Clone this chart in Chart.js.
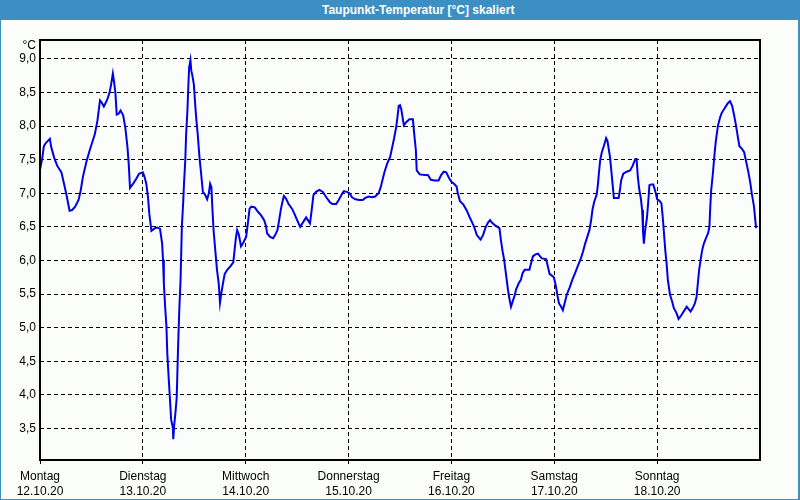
<!DOCTYPE html>
<html>
<head>
<meta charset="utf-8">
<script src="https://cdn.jsdelivr.net/npm/chart.js@4/dist/chart.umd.min.js"></script>
<style>
  html, body { margin: 0; padding: 0; background: #ffffff; }
  #frame { position: relative; width: 800px; height: 500px; box-sizing: border-box;
           border-left: 1px solid #3c8fc2; border-right: 2px solid #3c8fc2; border-bottom: 1px solid #3c8fc2;
           background: #fbfdfb; overflow: hidden; }
  #title { position: absolute; left: 0; top: 0; width: 800px; height: 20px; background: #3c8fc2;
           color: #ffffff; font: bold 12px "Liberation Sans", Arial, sans-serif; line-height: 21px; }
  #title span { position: absolute; left: 321px; top: 0; white-space: nowrap; }
  #wrap { position: absolute; left: -1px; top: 0; width: 800px; height: 500px; }
</style>
</head>
<body>
<div id="frame">
  <div id="title"><span>Taupunkt-Temperatur [°C] skaliert</span></div>
  <div id="wrap"><canvas id="c" width="800" height="500"></canvas></div>
</div>
<script>
// hours since Monday 12.10.20 00:00
const hours = [0,0.5,0.9,1.4,2.3,2.6,3.3,4.0,5.0,5.6,6.1,6.9,7.5,8.2,9.0,9.5,10.0,10.8,11.6,12.1,12.8,13.4,14.0,14.4,14.9,15.6,16.2,16.6,17.0,17.3,17.6,17.9,18.3,18.8,19.4,19.9,20.4,20.7,21.0,21.7,22.5,23.1,24.0,24.4,24.8,25.2,25.5,26.0,26.8,27.4,28.0,28.5,28.7,28.9,29.2,29.5,29.7,30.0,30.3,30.6,31.0,31.1,31.3,31.6,31.9,32.2,32.5,32.8,33.1,33.4,33.6,33.9,34.1,34.4,34.6,34.8,35.1,35.3,35.5,35.9,36.2,36.5,36.8,37.2,37.6,38.0,38.5,39.0,39.4,39.7,40.0,40.2,40.5,40.9,41.3,41.7,42.0,42.3,42.7,43.1,43.7,44.5,45.1,45.4,45.7,46.0,46.4,46.9,47.4,48.1,48.5,48.9,49.3,50.1,50.9,51.6,52.3,52.7,53.0,53.7,54.4,54.9,55.4,55.8,56.2,56.5,56.9,57.4,58.0,58.8,59.4,60.0,60.7,61.4,62.1,62.5,63.0,63.3,63.8,64.4,65.2,66.0,66.8,67.6,68.2,69.1,69.7,70.3,70.9,71.6,72.2,72.8,73.6,74.5,75.3,75.9,76.7,77.5,78.2,79.0,79.5,80.0,80.4,81.0,81.7,82.1,82.6,83.1,83.4,83.7,84.0,84.3,84.6,84.9,85.5,86.2,87.0,87.4,87.7,87.9,88.6,89.8,90.5,91.2,92.1,93.0,93.6,94.2,94.8,95.4,96.0,96.6,97.2,97.5,98.0,98.8,99.6,100.2,100.8,101.3,101.9,102.4,102.8,103.4,103.9,104.5,105.0,105.5,106.2,107.2,107.6,107.9,108.3,108.6,108.9,109.2,109.5,109.9,110.3,110.8,111.1,111.7,112.2,112.6,113.1,114.2,114.6,115.0,115.6,116.2,116.7,117.1,118.1,118.5,118.9,119.5,119.9,120.4,120.7,121.1,121.6,122.0,122.4,122.9,123.6,124.2,124.9,125.5,126.2,126.7,127.2,127.7,128.2,128.6,128.9,129.3,129.9,130.2,130.4,130.7,131.1,131.6,132.1,132.4,132.7,133.0,133.3,133.6,133.9,135.0,135.3,135.6,136.1,136.9,137.7,138.3,138.9,139.2,139.5,139.8,140.2,140.5,140.7,140.9,141.2,141.6,141.9,142.2,142.6,143.1,143.6,144.0,144.5,145.0,145.3,145.6,145.9,146.2,146.5,147.0,147.5,147.9,148.5,149.0,149.5,150.0,150.4,150.9,151.4,151.8,152.3,152.8,153.2,153.5,153.8,154.2,154.5,154.9,155.4,155.9,156.2,156.4,156.6,157.0,157.4,157.7,158.2,158.7,159.1,159.6,160.1,160.5,161.0,161.5,161.9,162.4,162.9,163.2,163.8,164.3,164.7,165.2,165.7,166.1,166.6,166.9,167.1];
const dewPoint = [7.35,7.51,7.70,7.75,7.81,7.69,7.53,7.41,7.31,7.14,7.00,6.74,6.75,6.80,6.90,7.04,7.24,7.46,7.64,7.74,7.88,8.08,8.38,8.35,8.29,8.38,8.49,8.62,8.78,8.65,8.49,8.17,8.18,8.23,8.16,7.98,7.69,7.44,7.08,7.14,7.22,7.29,7.31,7.24,7.14,6.94,6.70,6.44,6.48,6.49,6.47,6.25,6.01,5.66,5.31,5.02,4.62,4.28,3.96,3.63,3.51,3.34,3.54,3.73,3.96,4.67,5.26,5.71,6.50,6.85,7.14,7.49,7.88,8.23,8.58,8.87,8.98,8.82,8.77,8.62,8.33,8.08,7.88,7.54,7.29,7.02,6.98,6.91,7.00,7.14,7.09,6.80,6.45,6.15,5.86,5.66,5.37,5.51,5.66,5.80,5.86,5.92,5.97,6.15,6.33,6.45,6.38,6.21,6.26,6.35,6.55,6.77,6.80,6.79,6.72,6.67,6.60,6.52,6.40,6.35,6.33,6.38,6.45,6.60,6.76,6.85,6.96,6.92,6.84,6.77,6.69,6.60,6.50,6.57,6.64,6.60,6.55,6.70,6.97,7.02,7.05,7.02,6.94,6.87,6.84,6.84,6.90,6.97,7.03,7.02,7.00,6.94,6.91,6.90,6.90,6.93,6.95,6.94,6.95,7.00,7.09,7.22,7.32,7.44,7.54,7.66,7.81,7.98,8.13,8.30,8.31,8.25,8.13,8.01,8.06,8.10,8.10,7.83,7.64,7.34,7.28,7.27,7.27,7.20,7.19,7.19,7.27,7.32,7.31,7.23,7.17,7.14,7.10,7.00,6.88,6.83,6.74,6.65,6.57,6.50,6.38,6.34,6.31,6.38,6.48,6.56,6.60,6.56,6.52,6.48,6.28,6.15,6.01,5.86,5.71,5.56,5.44,5.31,5.39,5.49,5.57,5.66,5.71,5.81,5.86,5.86,5.96,6.06,6.09,6.10,6.06,6.03,6.02,5.91,5.80,5.77,5.75,5.61,5.49,5.36,5.31,5.26,5.36,5.49,5.60,5.71,5.82,5.92,6.03,6.13,6.25,6.35,6.45,6.60,6.75,6.87,6.98,7.14,7.29,7.49,7.61,7.71,7.82,7.78,7.66,7.54,7.34,7.14,6.93,6.93,7.04,7.19,7.29,7.32,7.34,7.41,7.51,7.51,7.24,7.07,6.92,6.75,6.43,6.25,6.45,6.62,6.85,7.12,7.13,7.13,7.02,6.91,6.89,6.85,6.65,6.40,6.15,5.96,5.71,5.49,5.39,5.29,5.22,5.13,5.17,5.22,5.26,5.31,5.27,5.24,5.29,5.36,5.46,5.66,5.86,6.03,6.15,6.25,6.33,6.41,6.50,6.80,7.04,7.29,7.59,7.78,8.01,8.13,8.20,8.25,8.30,8.34,8.37,8.30,8.18,8.01,7.81,7.70,7.66,7.61,7.49,7.34,7.17,6.99,6.80,6.60,6.48];
const dayNames = ["Montag","Dienstag","Mittwoch","Donnerstag","Freitag","Samstag","Sonntag"];
const dayDates = ["12.10.20","13.10.20","14.10.20","15.10.20","16.10.20","17.10.20","18.10.20"];
const xTicks = [0,24,48,72,96,120,144,168];
const yTicks = [3.5,4.0,4.5,5.0,5.5,6.0,6.5,7.0,7.5,8.0,8.5,9.0];
const yMin = 3.03, yMax = 9.28;

const points = hours.map((h, i) => ({ x: h, y: dewPoint[i] }));

const framePlugin = {
  id: 'frame',
  afterDraw(chart) {
    const { ctx, chartArea: a } = chart;
    ctx.save();
    ctx.strokeStyle = '#000';
    ctx.lineWidth = 2;
    ctx.strokeRect(a.left, a.top, a.right - a.left, a.bottom - a.top);
    ctx.fillStyle = '#000';
    ctx.font = '12px "Liberation Sans", Arial, sans-serif';
    ctx.textAlign = 'right';
    ctx.textBaseline = 'middle';
    ctx.fillText('°C', 36, 46);
    ctx.restore();
  }
};

new Chart(document.getElementById('c'), {
  type: 'line',
  data: { datasets: [{ data: points, borderColor: '#0000e6', borderWidth: 2, pointRadius: 0, tension: 0, fill: false }] },
  options: {
    responsive: false, animation: false,
    layout: { padding: { left: 0, right: 40, top: 40, bottom: 0 } },
    plugins: { legend: { display: false }, tooltip: { enabled: false }, title: { display: false } },
    scales: {
      x: {
        type: 'linear', min: 0, max: 168,
        afterFit(s) { s.height = 40; },
        afterBuildTicks(s) { s.ticks = xTicks.map(v => ({ value: v })); },
        border: { display: false, dash: [4, 3] },
        grid: { color: '#000', lineWidth: 1, drawTicks: true, tickLength: 4, tickBorderDash: [],
                tickColor: (ctx) => (ctx.tick && ctx.tick.value === 168) ? 'rgba(0,0,0,0)' : '#000' },
        ticks: {
          autoSkip: false, maxRotation: 0, padding: 5, color: '#000',
          font: { family: '"Liberation Sans", Arial, sans-serif', size: 12, lineHeight: 1.25 },
          callback: (v) => { const i = Math.round(v / 24); return i < 7 ? [dayNames[i], dayDates[i]] : ''; }
        }
      },
      y: {
        type: 'linear', min: yMin, max: yMax,
        afterFit(s) { s.width = 40; },
        afterBuildTicks(s) { s.ticks = yTicks.map(v => ({ value: v })); },
        border: { display: false, dash: [4, 3] },
        grid: { color: '#000', lineWidth: 1, drawTicks: false },
        ticks: {
          padding: 4, color: '#000',
          font: { family: '"Liberation Sans", Arial, sans-serif', size: 12 },
          callback: (v) => v.toFixed(1).replace('.', ',')
        }
      }
    }
  },
  plugins: [framePlugin]
});
</script>
</body>
</html>
